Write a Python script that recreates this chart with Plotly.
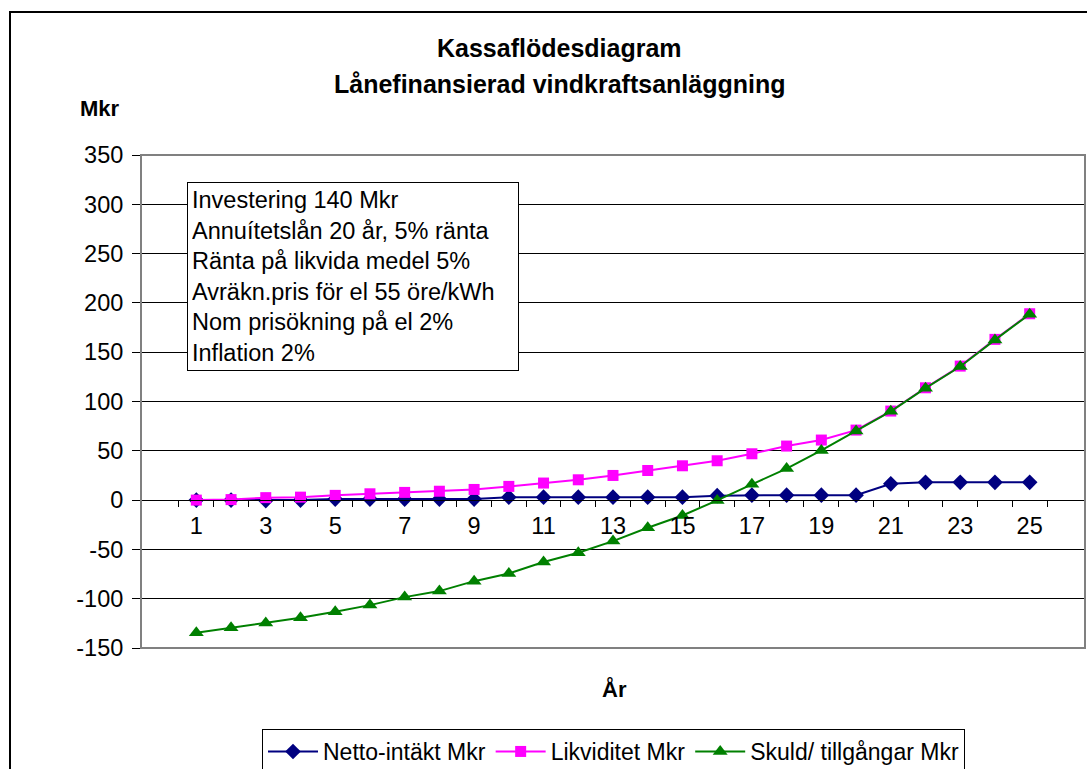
import plotly.graph_objects as go

years = list(range(1, 26))
netto = [0, 0, -0.5, 0, 1, 1, 1, 1, 1, 3, 3, 3, 3, 3, 3, 4.5, 5, 5, 5, 5, 16.5, 18, 18, 18, 18]
likviditet = [0, 0.5, 2.5, 3, 4.8, 6.4, 7.8, 9, 10.8, 13.9, 17.3, 20.6, 25, 30, 34.8, 39.9,
              47, 54.8, 60.9, 71, 90.3, 113.9, 135.9, 163, 189]
skuld = [-134.6, -129.5, -124.7, -119.4, -113.3, -106.5, -98.4, -92.3, -82.2, -74.4, -62.8,
         -53.4, -41.6, -28, -15.6, -0.3, 16, 32, 50.4, 70, 90, 113.5, 135.5, 162.5, 188.5]

series_names = ["Netto-intäkt Mkr", "Likviditet Mkr", "Skuld/ tillgångar Mkr"]
title_lines = ["Kassaflödesdiagram", "Lånefinansierad vindkraftsanläggning"]
info_lines = ["Investering 140 Mkr", "Annuítetslån 20 år, 5% ränta", "Ränta på likvida medel 5%",
              "Avräkn.pris för el 55 öre/kWh", "Nom prisökning på el 2%", "Inflation 2%"]
y_ticks = [-150, -100, -50, 0, 50, 100, 150, 200, 250, 300, 350]
y_ticktext = [str(v) for v in y_ticks]  # plain hyphen-minus like the original

FONT = "Liberation Sans, Arial, sans-serif"

fig = go.Figure()
fig.add_trace(go.Scatter(x=years, y=netto, name=series_names[0], mode="lines+markers",
                         line=dict(color="#000080", width=2),
                         marker=dict(symbol="diamond", size=12, color="#000080")))
fig.add_trace(go.Scatter(x=years, y=likviditet, name=series_names[1], mode="lines+markers",
                         line=dict(color="#FF00FF", width=2),
                         marker=dict(symbol="square", size=11, color="#FF00FF")))
fig.add_trace(go.Scatter(x=years, y=skuld, name=series_names[2], mode="lines+markers",
                         line=dict(color="#008000", width=2),
                         marker=dict(symbol="triangle-up", size=13, color="#008000")))

fig.update_layout(
    template="none",
    width=1087, height=769,
    margin=dict(l=141, r=2, t=155, b=121, pad=0, autoexpand=False),
    paper_bgcolor="white", plot_bgcolor="white",
    font=dict(family=FONT, size=23, color="black"),
    showlegend=True,
    legend=dict(orientation="h", xref="paper", yref="container",
                x=(262 - 141) / 944, y=(769 - 729) / 769, xanchor="left", yanchor="top",
                bgcolor="white", bordercolor="black", borderwidth=1,
                font=dict(family=FONT, size=23, color="black"),
                itemwidth=50, tracegroupgap=0),
    xaxis=dict(type="category", anchor="free", position=0.3, automargin=False,
               showline=True, linecolor="black", linewidth=1,
               ticks="outside", ticklen=6, tickcolor="black", tickson="boundaries",
               ticklabelstep=2, tickangle=0, showgrid=False, zeroline=False,
               tickfont=dict(family=FONT, size=23.5, color="black"),
               ticklabelstandoff=5),
    yaxis=dict(range=[-150, 350], tickmode="array", tickvals=y_ticks, ticktext=y_ticktext,
               domain=[0, 1], automargin=False,
               showline=True, linecolor="black", linewidth=1,
               ticks="outside", ticklen=8, tickcolor="black",
               showgrid=True, gridcolor="black", gridwidth=1,
               zeroline=True, zerolinecolor="black", zerolinewidth=1,
               tickfont=dict(family=FONT, size=23.5, color="black"),
               ticklabelstandoff=4),
)

# plot area border (grey)
fig.add_shape(type="rect", xref="paper", yref="paper", x0=0, x1=1, y0=0, y1=1,
              line=dict(color="#808080", width=2), layer="above")
# chart border (extends past right/bottom of window)
fig.add_shape(type="rect", xref="paper", yref="paper",
              x0=(10 - 141) / 944, x1=1.2, y0=-0.5, y1=(648 - 12) / 493,
              line=dict(color="black", width=2), layer="below")

# titles
fig.add_annotation(text="<b>" + title_lines[0] + "</b>", xref="paper", yref="paper",
                   x=(559 - 141) / 944, y=(648 - 48) / 493, xanchor="center", yanchor="middle",
                   showarrow=False, font=dict(family=FONT, size=25, color="black"))
fig.add_annotation(text="<b>" + title_lines[1] + "</b>", xref="paper", yref="paper",
                   x=(559 - 141) / 944, y=(648 - 84) / 493, xanchor="center", yanchor="middle",
                   showarrow=False, font=dict(family=FONT, size=25, color="black"))
# axis titles
fig.add_annotation(text="<b>Mkr</b>", xref="paper", yref="paper",
                   x=(100 - 141) / 944, y=(648 - 108) / 493, xanchor="center", yanchor="middle",
                   showarrow=False, font=dict(family=FONT, size=22, color="black"))
fig.add_annotation(text="<b>År</b>", xref="paper", yref="paper",
                   x=(614 - 141) / 944, y=(648 - 689) / 493, xanchor="center", yanchor="middle",
                   showarrow=False, font=dict(family=FONT, size=22, color="black"))
# info box
fig.add_annotation(text="<br>".join(info_lines), xref="paper", yref="paper",
                   x=(187 - 141) / 944, y=(648 - 182) / 493, xanchor="left", yanchor="top",
                   align="left", showarrow=False, width=322, borderpad=4,
                   bgcolor="white", bordercolor="black", borderwidth=1,
                   font=dict(family=FONT, size=23.5, color="black"))

fig.write_html("out.html", config={"displayModeBar": False},
               post_script="document.body.style.margin='0';")
